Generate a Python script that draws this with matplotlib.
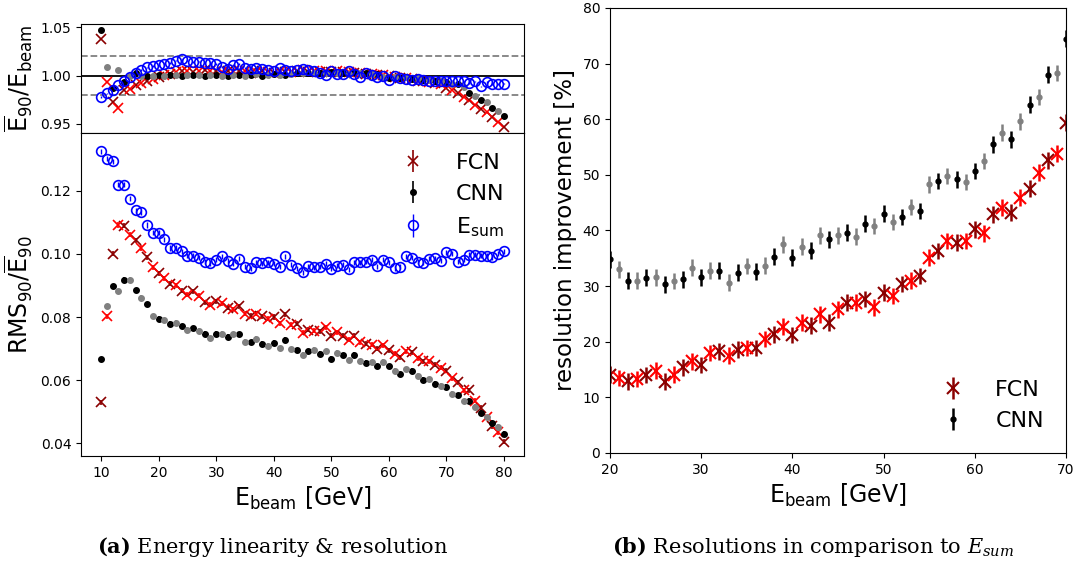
import numpy as np
import matplotlib
matplotlib.use("Agg")
import matplotlib.pyplot as plt

plt.rcParams["mathtext.fontset"] = "dejavusans"

# beam energies [GeV]
e_beam = np.arange(10, 81)
e_beam_b = np.arange(20, 71)

# linearity E90/Ebeam
lin_fcn = [1.0376, 0.9935, 0.973, 0.967, 0.9847, 0.9867, 0.990, 0.9925, 0.995, 0.997,
           0.9986, 1.001, 1.002, 1.0034, 1.0044, 1.005, 1.0034, 1.0044, 1.0054, 1.0044,
           1.0044, 1.0034, 1.0044, 1.0044, 1.005, 1.0044, 1.0027, 1.0034, 1.0044, 1.0034,
           1.0027, 1.0044, 1.0034, 1.004, 1.0045, 1.0054, 1.004, 1.0045, 1.0035, 1.0044,
           1.004, 1.0045, 1.0035, 1.004, 1.003, 1.0027, 1.002, 1.0015, 1.001, 1.0005,
           1.0, 0.999, 0.998, 0.9976, 0.9965, 0.995, 0.994, 0.9932, 0.992, 0.991,
           0.9874, 0.9847, 0.9817, 0.978, 0.9745, 0.970, 0.966, 0.962, 0.957, 0.9525,
           0.9467]
lin_cnn = [1.047, 1.0085, 0.9875, 1.0054, 0.993, 0.9993, 1.0027, 0.9993, 0.9993, 0.9993,
           1.001, 0.9993, 1.001, 1.001, 0.9993, 1.001, 1.001, 1.001, 0.9993, 1.001,
           1.001, 1.0, 0.9993, 1.001, 1.001, 1.0, 1.001, 1.0017, 1.0, 1.001,
           1.0017, 1.001, 1.001, 1.002, 1.0025, 1.003, 1.0025, 1.003, 1.0025, 1.003,
           1.0035, 1.0025, 1.003, 1.002, 1.004, 1.0025, 1.003, 1.002, 1.0015, 0.999,
           0.998, 0.999, 0.998, 0.9985, 0.997, 0.9975, 0.996, 0.996, 0.995, 0.994,
           0.993, 0.9915, 0.9915, 0.988, 0.982, 0.9786, 0.9745, 0.9725, 0.967, 0.9637,
           0.958]
lin_esum = [0.978, 0.9816, 0.985, 0.990, 0.995, 0.9986, 1.0027, 1.006, 1.0085, 1.010,
            1.011, 1.012, 1.013, 1.0156, 1.017, 1.0156, 1.014, 1.0146, 1.0136, 1.013,
            1.012, 1.0088, 1.0068, 1.011, 1.012, 1.0078, 1.007, 1.0078, 1.0068, 1.006,
            1.0044, 1.0075, 1.006, 1.005, 1.0055, 1.0068, 1.006, 1.0044, 1.0027, 1.001,
            1.0044, 1.002, 1.0017, 1.0044, 1.0017, 0.9986, 1.0027, 1.001, 0.9986, 0.9993,
            0.996, 1.0, 0.9976, 0.9966, 0.996, 0.9966, 0.996, 0.995, 0.9942, 0.995,
            0.9942, 0.995, 0.9942, 0.9942, 0.9925, 0.9942, 0.989, 0.9932, 0.9915, 0.9915,
            0.9918]

# resolution RMS90/E90
res_fcn = [0.0530, 0.0803, 0.1000, 0.1092, 0.1090, 0.1061, 0.1043, 0.1019, 0.0990, 0.0958,
           0.0939, 0.0923, 0.0905, 0.0900, 0.0884, 0.0870, 0.0882, 0.0868, 0.0847, 0.0839,
           0.0850, 0.0844, 0.0829, 0.0824, 0.0834, 0.0810, 0.0804, 0.0810, 0.0802, 0.0794,
           0.0800, 0.0780, 0.0808, 0.0775, 0.0778, 0.0750, 0.0760, 0.0757, 0.0755, 0.0768,
           0.0741, 0.0752, 0.0741, 0.0728, 0.0741, 0.0720, 0.0715, 0.0712, 0.0699, 0.0710,
           0.0694, 0.0683, 0.0673, 0.0692, 0.0688, 0.0669, 0.0659, 0.0659, 0.0649, 0.0639,
           0.0630, 0.0606, 0.0593, 0.0567, 0.0567, 0.0535, 0.0512, 0.0482, 0.0454, 0.0435,
           0.0404]
res_cnn = [0.0666, 0.0834, 0.0898, 0.0882, 0.0918, 0.0918, 0.0885, 0.0861, 0.0841, 0.0803,
           0.0794, 0.0789, 0.0779, 0.0782, 0.0771, 0.0760, 0.0764, 0.0757, 0.0747, 0.0733,
           0.0747, 0.0747, 0.0737, 0.0745, 0.0745, 0.0722, 0.0720, 0.0731, 0.0715, 0.0708,
           0.0719, 0.0701, 0.0728, 0.0697, 0.0694, 0.0680, 0.0691, 0.0696, 0.0683, 0.0691,
           0.0668, 0.0687, 0.0678, 0.0662, 0.0680, 0.0659, 0.0655, 0.0656, 0.0644, 0.0658,
           0.0644, 0.0630, 0.0618, 0.0634, 0.0630, 0.0614, 0.0601, 0.0603, 0.0588, 0.0582,
           0.0578, 0.0557, 0.0551, 0.0533, 0.0535, 0.0516, 0.0496, 0.0482, 0.0465, 0.0451,
           0.0430]
res_esum = [0.1326, 0.1302, 0.1294, 0.1220, 0.1220, 0.1175, 0.1138, 0.1132, 0.1092, 0.1067,
            0.1067, 0.1046, 0.1019, 0.1019, 0.1009, 0.0995, 0.0995, 0.0988, 0.0976, 0.0971,
            0.0981, 0.0992, 0.0979, 0.0969, 0.0985, 0.0960, 0.0955, 0.0974, 0.0971, 0.0974,
            0.0969, 0.0960, 0.0992, 0.0966, 0.0955, 0.0942, 0.0961, 0.0958, 0.0960, 0.0969,
            0.0953, 0.0963, 0.0966, 0.0951, 0.0974, 0.0974, 0.0976, 0.0982, 0.0961, 0.0981,
            0.0974, 0.0955, 0.0960, 0.0992, 0.0988, 0.0976, 0.0972, 0.0985, 0.0986, 0.0979,
            0.1006, 0.1000, 0.0976, 0.0981, 0.0998, 0.0998, 0.0995, 0.0995, 0.0990, 0.1000,
            0.1008]

# resolution improvement vs Esum [%]
imp_fcn = [14.1, 13.5, 12.9, 13.3, 14.0, 14.8, 12.8, 14.1, 15.4, 16.5,
           15.8, 18.0, 18.3, 17.5, 18.6, 18.9, 18.9, 20.5, 21.3, 22.7,
           21.2, 23.4, 22.9, 24.9, 23.4, 25.8, 27.0, 27.0, 27.7, 26.2,
           28.8, 28.2, 30.4, 31.0, 31.8, 35.1, 36.3, 38.1, 37.8, 38.1,
           40.2, 39.5, 42.9, 44.1, 43.2, 45.9, 47.5, 50.4, 52.6, 53.8,
           59.4]
imp_cnn = [34.8, 33.0, 31.0, 31.0, 31.5, 31.6, 30.3, 30.9, 31.2, 33.3,
           31.6, 32.8, 32.8, 30.6, 32.4, 33.6, 32.6, 33.7, 35.3, 37.5,
           35.1, 37.1, 36.4, 39.1, 38.4, 39.1, 39.6, 38.9, 41.2, 40.8,
           43.0, 41.5, 42.4, 44.2, 43.5, 48.3, 48.9, 49.8, 49.2, 48.7,
           50.7, 52.5, 55.5, 57.6, 56.4, 59.6, 62.6, 64.0, 68.0, 68.3,
           74.5]

err_lin = 0.0008
err_res = 0.0008
err_imp = 1.5


def split_plot(ax, x, y, err, colors, fmt, label, **kw):
    # even energies in the dark colour, odd ones in the light colour
    x = np.asarray(x)
    y = np.asarray(y)
    ev = (x % 2 == 0)
    ax.errorbar(x[ev], y[ev], yerr=err, fmt=fmt, color=colors[0], label=label, **kw)
    ax.errorbar(x[~ev], y[~ev], yerr=err, fmt=fmt, color=colors[1], **kw)


fig = plt.figure(figsize=(10.76, 5.67), dpi=100)
ax_top = fig.add_axes([0.0753, 0.7654, 0.4117, 0.1922])
ax_bot = fig.add_axes([0.0753, 0.1958, 0.4117, 0.5697], sharex=ax_top)
ax_r = fig.add_axes([0.5669, 0.2011, 0.4238, 0.7848])

fcn_kw = dict(markersize=7, elinewidth=1.2, markeredgewidth=1.2)
cnn_kw = dict(markersize=8, elinewidth=1.2)
esum_kw = dict(markersize=7, mfc="none", elinewidth=1.0, markeredgewidth=1.2)

# top: linearity
ax_top.axhline(1.0, color="black", lw=1.3)
ax_top.axhline(1.02, color="gray", lw=1.3, ls="--")
ax_top.axhline(0.98, color="gray", lw=1.3, ls="--")
split_plot(ax_top, e_beam, lin_fcn, err_lin, ("darkred", "red"), "x", None, **fcn_kw)
split_plot(ax_top, e_beam, lin_cnn, err_lin, ("black", "gray"), ".", None, **cnn_kw)
ax_top.errorbar(e_beam, lin_esum, yerr=err_lin, fmt="o", color="blue", **esum_kw)
ax_top.set_ylim(0.9406, 1.0535)
ax_top.set_yticks([0.95, 1.00, 1.05])
ax_top.set_yticklabels(["0.95", "1.00", "1.05"])
ax_top.tick_params(labelbottom=False, labelsize=10)
ax_top.set_ylabel(r"$\overline{\mathrm{E}}_{90}/\mathrm{E_{beam}}$", fontsize=17)

# bottom: resolution
split_plot(ax_bot, e_beam, res_fcn, err_res, ("darkred", "red"), "x", "FCN", **fcn_kw)
split_plot(ax_bot, e_beam, res_cnn, err_res, ("black", "gray"), ".", "CNN", **cnn_kw)
ax_bot.errorbar(e_beam, res_esum, yerr=err_res, fmt="o", color="blue",
                label=r"$\mathrm{E_{sum}}$", **esum_kw)
ax_bot.set_xlim(6.5, 83.5)
ax_bot.set_ylim(0.0359, 0.1384)
ax_bot.set_yticks([0.04, 0.06, 0.08, 0.10, 0.12])
ax_bot.set_xticks([10, 20, 30, 40, 50, 60, 70, 80])
ax_bot.tick_params(labelsize=10)
ax_bot.set_ylabel(r"$\mathrm{RMS_{90}}/\overline{\mathrm{E}}_{90}$", fontsize=17)
ax_bot.set_xlabel(r"$\mathrm{E_{beam}}$ [GeV]", fontsize=17)
ax_bot.legend(loc="upper right", frameon=False, fontsize=16, handletextpad=0.9)

# right: improvement
split_plot(ax_r, e_beam_b, imp_fcn, err_imp, ("darkred", "red"), "x", "FCN",
           markersize=8, elinewidth=1.8, markeredgewidth=1.5)
split_plot(ax_r, e_beam_b, imp_cnn, err_imp, ("black", "gray"), ".", "CNN",
           markersize=7, elinewidth=1.8)
ax_r.set_xlim(20, 70)
ax_r.set_ylim(0, 80)
ax_r.set_xticks([20, 30, 40, 50, 60, 70])
ax_r.set_yticks(range(0, 81, 10))
ax_r.tick_params(labelsize=10)
ax_r.set_ylabel("resolution improvement [%]", fontsize=16.5)
ax_r.set_xlabel(r"$\mathrm{E_{beam}}$ [GeV]", fontsize=17)
ax_r.legend(loc="lower right", frameon=False, fontsize=16, handletextpad=0.9,
            borderaxespad=0.6)

# captions
fig.text(0.253, 0.035, r"$\mathbf{(a)}$ Energy linearity & resolution",
         ha="center", va="center", fontsize=15, family="DejaVu Serif",
         math_fontfamily="dejavuserif")
fig.text(0.756, 0.035, r"$\mathbf{(b)}$ Resolutions in comparison to $E_{sum}$",
         ha="center", va="center", fontsize=15, family="DejaVu Serif",
         math_fontfamily="dejavuserif")

fig.savefig("out.png", dpi=100)
